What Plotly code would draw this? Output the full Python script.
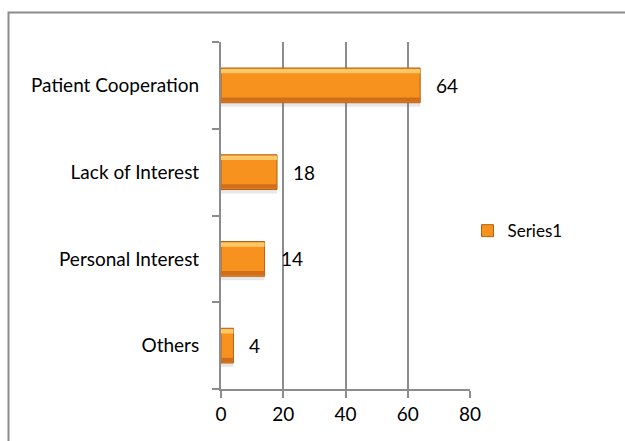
import plotly.graph_objects as go

# Reasons reported, bottom to top
categories = ["Others", "Personal Interest", "Lack of Interest", "Patient Cooperation"]
values = [4, 14, 18, 64]
series_name = "Series1"
x_ticks = [0, 20, 40, 60, 80]

W, H = 625, 441
L, R, T, B = 221, 155, 42, 52
pw, ph = W - L - R, H - T - B

font = "Lato, Carlito, Calibri, sans-serif"
grid = "#8c8c8c"

fig = go.Figure()

# soft shadow beneath each bar
fig.add_trace(go.Bar(
    y=categories, x=values, orientation="h", width=0.05, offset=-0.245,
    marker=dict(color="rgba(120,120,120,0.18)", line=dict(width=0)),
    showlegend=False, hoverinfo="skip",
))
# main bar body
fig.add_trace(go.Bar(
    y=categories, x=values, orientation="h", name=series_name,
    width=0.4, offset=-0.2,
    marker=dict(color="#F7921E", line=dict(color="#B45F19", width=1)),
    showlegend=True,
))
# light bevel along the top edge
fig.add_trace(go.Bar(
    y=categories, x=values, orientation="h", width=0.05, offset=0.14,
    marker=dict(color="#FDC867", line=dict(width=0)),
    showlegend=False, hoverinfo="skip",
))
# darker bevel along the bottom edge
fig.add_trace(go.Bar(
    y=categories, x=values, orientation="h", width=0.05, offset=-0.19,
    marker=dict(color="#D06E1B", line=dict(width=0)),
    showlegend=False, hoverinfo="skip",
))

# value labels to the right of each bar
for c, v in zip(categories, values):
    fig.add_annotation(x=v, y=c, text=str(v), showarrow=False,
                       xanchor="left", xshift=14,
                       font=dict(family=font, size=19, color="#000000"))

# outer chart frame: a single open path along the top and left edges
fx0 = (8.5 - L) / pw
fx1 = (W + 30 - L) / pw
fy_top = (H - B - 12.5) / ph
fy_bot = (H - B - H - 30) / ph
fig.add_shape(type="path", xref="paper", yref="paper",
              path=f"M {fx1},{fy_top} L {fx0},{fy_top} L {fx0},{fy_bot}",
              line=dict(color=grid, width=2))

fig.update_layout(
    width=W, height=H,
    margin=dict(l=L, r=R, t=T, b=B),
    paper_bgcolor="white", plot_bgcolor="white",
    barmode="overlay",
    font=dict(family=font, size=19, color="#000000"),
    legend=dict(x=0.99, xanchor="left", y=0.455, yanchor="middle",
                font=dict(family=font, size=17), itemwidth=30,
                bgcolor="rgba(0,0,0,0)", traceorder="normal"),
    xaxis=dict(range=[0, 80], tickvals=x_ticks, showgrid=True, gridcolor=grid,
               gridwidth=2, showline=True, linecolor=grid, linewidth=2,
               ticks="outside", ticklen=7, tickcolor=grid, tickwidth=2,
               zeroline=False, fixedrange=True),
    yaxis=dict(categoryorder="array", categoryarray=categories,
               showgrid=False, showline=True, linecolor=grid, linewidth=2,
               ticks="outside", tickson="boundaries", ticklen=7, tickcolor=grid,
               tickwidth=2, ticklabelstandoff=16, fixedrange=True),
)

fig.write_html("out.html", config={"displayModeBar": False})
